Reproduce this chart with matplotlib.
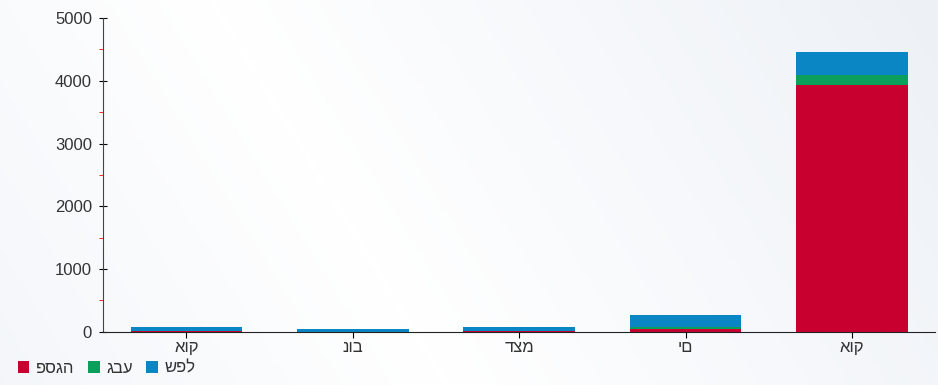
import numpy as np
import matplotlib.pyplot as plt
from matplotlib.colors import LinearSegmentedColormap
from matplotlib.ticker import MultipleLocator

plt.rcParams['font.family'] = ['Liberation Sans', 'DejaVu Sans']

# data
months = ['אוק', 'נוב', 'דצמ', 'ים', 'אוק']
peak = [20, 0, 15, 40, 3930]      # פסגה
mid = [0, 0, 0, 30, 160]          # גבע
low = [50, 50, 55, 200, 370]      # שפל
series_names = ['פסגה', 'גבע', 'שפל']
colors = ['#c70030', '#0aa05c', '#0b86c4']

fig = plt.figure(figsize=(9.38, 3.85), dpi=100)

# light diagonal gradient background
bg = fig.add_axes([0, 0, 1, 1], zorder=-1)
gx, gy = np.meshgrid(np.linspace(0, 1, 300), np.linspace(0, 1, 120))
img = np.abs(gx - 0.35 + 0.25 * (gy - 0.5))
bg.imshow(img, aspect='auto', origin='lower', extent=[0, 1, 0, 1],
          cmap=LinearSegmentedColormap.from_list('bg', ['#ffffff', '#f6f8fb', '#edf1f6']))
bg.axis('off')

ax = fig.add_axes([0.11, 0.138, 0.887, 0.815])
ax.patch.set_alpha(0)

x = np.arange(len(months))
w = 0.67
b1 = ax.bar(x, peak, w, color=colors[0], label=series_names[0])
b2 = ax.bar(x, mid, w, bottom=peak, color=colors[1], label=series_names[1])
bottom2 = np.array(peak) + np.array(mid)
b3 = ax.bar(x, low, w, bottom=bottom2, color=colors[2], label=series_names[2])

ax.set_xlim(-0.5, len(months) - 0.5)
ax.set_ylim(0, 5000)
ax.set_xticks(x)
ax.set_xticklabels(months, fontsize=12, color='#333333')
ax.yaxis.set_major_locator(MultipleLocator(1000))
ax.yaxis.set_minor_locator(MultipleLocator(500))
ax.tick_params(axis='y', which='major', direction='inout', length=6, labelsize=12,
               labelcolor='#333333', pad=5)
ax.tick_params(axis='y', which='minor', direction='out', length=3, color='red')
ax.tick_params(axis='x', direction='out', length=4, pad=2)

for s in ['top', 'right']:
    ax.spines[s].set_visible(False)
ax.spines['left'].set_color('#444444')
ax.spines['bottom'].set_color('#222222')

fig.legend(handles=[b1, b2, b3], labels=series_names, loc='lower left',
           bbox_to_anchor=(0.003, -0.015), ncol=3, frameon=False, fontsize=12,
           handlelength=0.7, handleheight=0.7, handletextpad=0.4, columnspacing=0.8,
           labelcolor='#333333')

fig.savefig('out.png', dpi=100)
